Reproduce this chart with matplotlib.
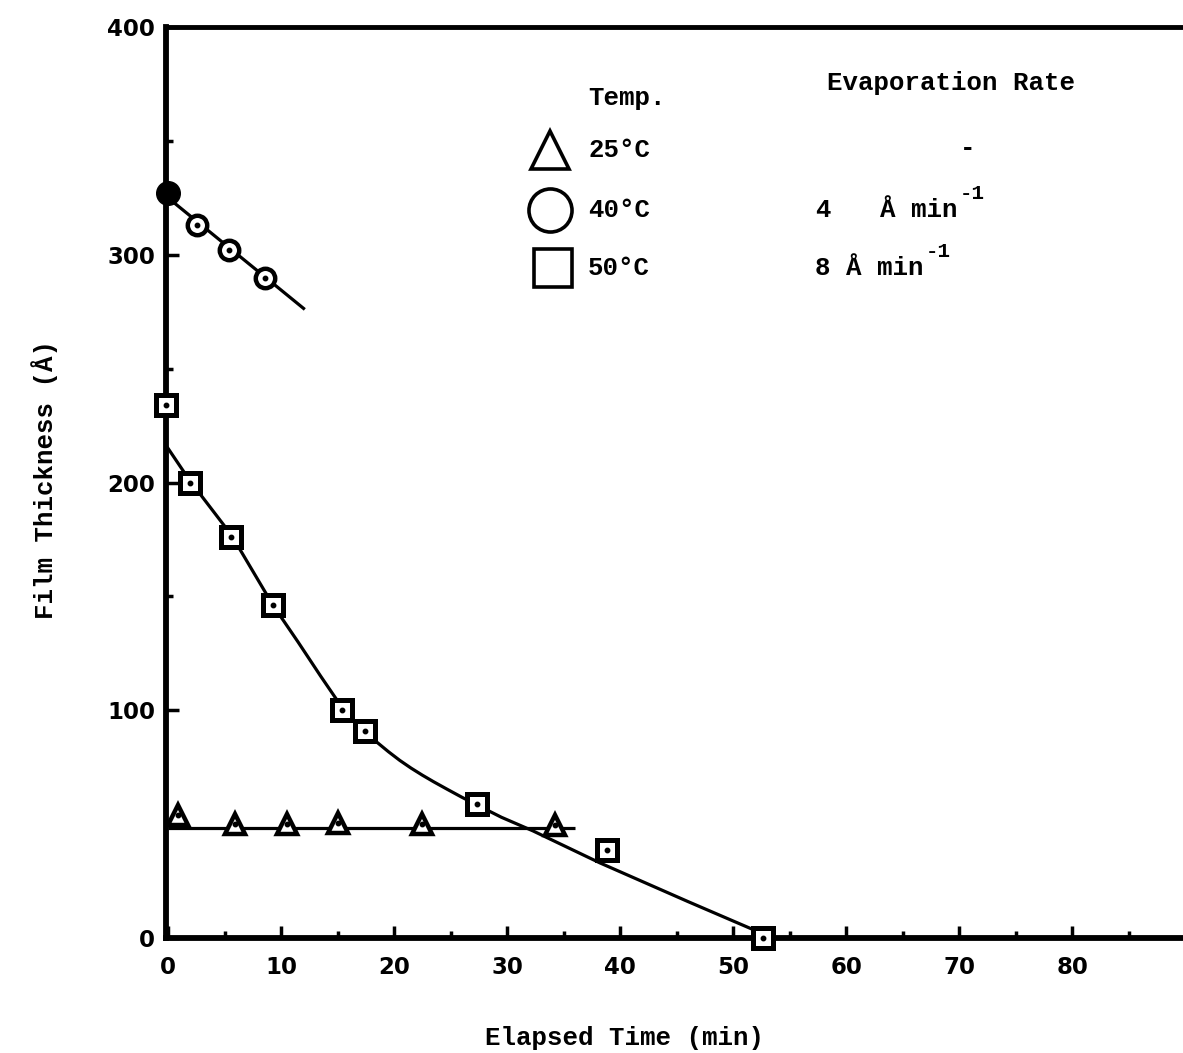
import matplotlib
matplotlib.use("Agg")
import matplotlib.pyplot as plt
from matplotlib.ticker import MultipleLocator

# -----------------------------------
# Data
# -----------------------------------
# 25 C (triangles)
t25 = [0.9, 5.9, 10.5, 15.0, 22.5, 34.2]
d25 = [54, 50, 50, 50.5, 50, 49.5]
fit25_t = [0, 36]
fit25_d = [48.5, 48.5]

# 40 C (circles), first point drawn solid
t40_first = [0]
d40_first = [327]
t40 = [2.6, 5.4, 8.6]
d40 = [313, 302, 290]
fit40_t = [0, 12.1]
fit40_d = [325, 276]

# 50 C (squares)
t50 = [-0.2, 1.9, 5.6, 9.3, 15.4, 17.4, 27.3, 38.8, 52.6]
d50 = [234, 200, 176, 146, 100, 91, 59, 38.5, 0]
# smooth curve drawn through the points
fit50_t = [0, 1.9, 5.6, 9.3, 11.5, 13.5, 14.6, 15.4, 16.4, 17.4, 18.4, 19.5,
           20.5, 21.5, 22.5, 23.5, 24.7, 26.0, 27.3, 29.5, 32.3, 38.2, 46, 53.5]
fit50_d = [215, 201, 177, 146, 130, 115, 107, 101.2, 95.8, 90.8, 86.3, 81.8,
           78.0, 74.6, 71.5, 68.6, 65.3, 61.8, 58.5, 53, 47, 33, 16, 0]

legend_temps = ["25°C", "40°C", "50°C"]
legend_markers = ["^", "o", "s"]

mono = "Liberation Mono"

# -----------------------------------
# Figure
# -----------------------------------
fig = plt.figure(figsize=(11.83, 10.53), dpi=100)
ax = fig.add_axes([166 / 1183, 1 - 938 / 1053, 1 - 166 / 1183, (938 - 27) / 1053])
ax.set_xlim(-0.18, 89.8)
ax.set_ylim(0, 400)

# fitted lines
ax.plot(fit25_t, fit25_d, color="black", lw=2.3, solid_capstyle="butt")
ax.plot(fit40_t, fit40_d, color="black", lw=2.3, solid_capstyle="butt")
ax.plot(fit50_t, fit50_d, color="black", lw=2.3, solid_joinstyle="round")

# markers: open with a dot in the middle
ax.plot(t25, d25, ls="none", marker="^", ms=15, mfc="white", mec="black", mew=3.2,
        zorder=3, clip_on=False)
ax.plot(t40, d40, ls="none", marker="o", ms=14, mfc="white", mec="black", mew=3.2,
        zorder=3, clip_on=False)
ax.plot(t50, d50, ls="none", marker="s", ms=14, mfc="white", mec="black", mew=3.6,
        zorder=3, clip_on=False)
for tt, dd in [(t25, d25), (t40, d40), (t50, d50)]:
    ax.plot(tt, dd, ls="none", marker="o", ms=3.2, color="black", zorder=4, clip_on=False)
ax.plot(t40_first, d40_first, ls="none", marker="o", ms=17, color="black", zorder=4,
        clip_on=False)

# -----------------------------------
# Axes styling
# -----------------------------------
ax.spines["right"].set_visible(False)
ax.spines["left"].set_linewidth(4.2)
ax.spines["bottom"].set_linewidth(4.2)
ax.spines["top"].set_linewidth(3.5)

ax.xaxis.set_major_locator(MultipleLocator(10))
ax.xaxis.set_minor_locator(MultipleLocator(5))
ax.yaxis.set_major_locator(MultipleLocator(100))
ax.yaxis.set_minor_locator(MultipleLocator(50))
ax.tick_params(which="both", direction="in", width=2.5, top=False, right=False)
ax.tick_params(which="major", length=9)
ax.tick_params(which="minor", length=5)
ax.tick_params(axis="x", which="major", pad=13)
ax.tick_params(axis="y", which="major", pad=8)
for lab in ax.get_xticklabels() + ax.get_yticklabels():
    lab.set_fontfamily("DejaVu Sans")
    lab.set_fontweight("bold")
    lab.set_fontsize(16.5)

ax.set_xlabel("Elapsed Time (min)", fontsize=18.5, fontfamily=mono, fontweight="bold")
ax.xaxis.set_label_coords(0.451, -0.11)
ax.xaxis.label.set_va("center")
ax.set_ylabel("Film Thickness (Å)", fontsize=18.5, fontfamily=mono, fontweight="bold")
ax.yaxis.set_label_coords(-0.119, 0.503)
ax.yaxis.label.set_va("center")

# -----------------------------------
# Hand-drawn style legend
# -----------------------------------
tf = ax.transAxes
txt = dict(fontsize=18.5, fontfamily=mono, fontweight="bold", va="center", transform=tf)
ax.text(0.415, 0.9216, "Temp.", **txt)
ax.text(0.650, 0.9385, "Evaporation Rate", **txt)

leg_x = [0.3776, 0.3776, 0.3805]
leg_y = [0.865, 0.799, 0.7355]
leg_ms = [27, 31, 28]
for mk, lbl, lx, ly, ms in zip(legend_markers, legend_temps, leg_x, leg_y, leg_ms):
    ax.plot([lx], [ly], marker=mk, ms=ms, mfc="white", mec="black", mew=2.6,
            transform=tf, clip_on=False)
    ax.text(0.415, ly, lbl, **txt)

ax.text(0.781, 0.867, "-", **txt)
ax.text(0.638, 0.799, "4", **txt)
t4 = ax.text(0.702, 0.799, "Å min", **txt)
ax.annotate("-1", xy=(1.0, 0.8), xycoords=t4, xytext=(2, 0), textcoords="offset points",
            fontsize=15, fontfamily=mono, fontweight="bold", va="bottom")
t8 = ax.text(0.638, 0.7355, "8 Å min", **txt)
ax.annotate("-1", xy=(1.0, 0.8), xycoords=t8, xytext=(2, 0), textcoords="offset points",
            fontsize=15, fontfamily=mono, fontweight="bold", va="bottom")

fig.savefig("out.png", dpi=100)
